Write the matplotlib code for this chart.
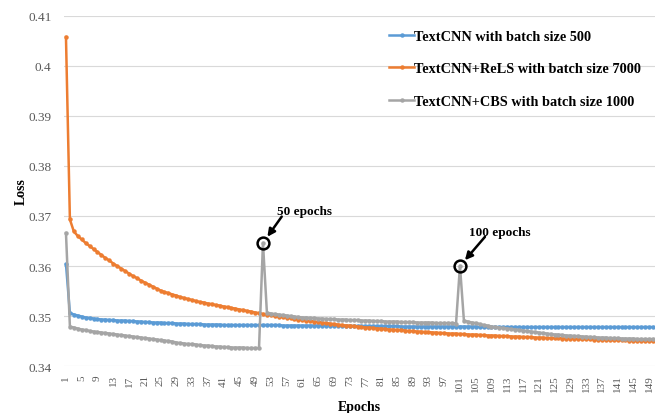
import matplotlib
matplotlib.use("Agg")
import matplotlib.pyplot as plt

plt.rcParams['font.family'] = ['Liberation Serif', 'DejaVu Serif']

epochs = list(range(1, 151))

# TextCNN, batch size 500
loss_textcnn = [
    .3604, .3506, .3503, .3501, .3499, .3497, .3496, .3495, .3494, .3493,
    .3493, .3492, .3492, .3491, .3491, .3491, .3490, .3490, .3489, .3489,
    .3488, .3488, .3487, .3487, .3487, .3486, .3486, .3486, .3485, .3485,
    .3485, .3484, .3484, .3484, .3484, .3483, .3483, .3483, .3483, .3483,
    .3482, .3482, .3482, .3482, .3482, .3482, .3482, .3482, .3482, .3482,
    .3482, .3482, .3482, .3482, .3482, .3481, .3481, .3481, .3481, .3481,
    .3481, .3481, .3481, .3481, .3481, .3481, .3481, .3481, .3481, .3481,
    .3480, .3480, .3480, .3480, .3480, .3480, .3480, .3480, .3480, .3480,
    .3480, .3480, .3480, .3480, .3480, .3479, .3479, .3479, .3479, .3479,
    .3479, .3479, .3479, .3479, .3479, .3479, .3479, .3479, .3479, .3479,
    .3479, .3479, .3479, .3479, .3479, .3478, .3478, .3478, .3478, .3478,
    .3478, .3478, .3478, .3478, .3478, .3478, .3478, .3478, .3478, .3478,
    .3478, .3478, .3478, .3478, .3478, .3478, .3478, .3478, .3478, .3478,
    .3478, .3478, .3478, .3478, .3478, .3478, .3478, .3478, .3478, .3478,
    .3478, .3478, .3478, .3478, .3478, .3478, .3478, .3478, .3478, .3478,
]

# TextCNN+ReLS, batch size 7000
loss_rels = [
    .4058, .3693, .3669, .3660, .3653, .3646, .3640, .3634, .3628, .3622,
    .3616, .3611, .3605, .3600, .3595, .3590, .3585, .3580, .3576, .3571,
    .3567, .3563, .3559, .3555, .3551, .3548, .3546, .3543, .3541, .3538,
    .3536, .3534, .3532, .3530, .3528, .3527, .3525, .3524, .3522, .3521,
    .3519, .3518, .3516, .3515, .3513, .3512, .3510, .3509, .3507, .3506,
    .3504, .3503, .3502, .3500, .3499, .3498, .3497, .3496, .3494, .3493,
    .3492, .3491, .3490, .3489, .3488, .3487, .3486, .3485, .3484, .3483,
    .3482, .3481, .3481, .3480, .3479, .3478, .3477, .3477, .3476, .3475,
    .3475, .3474, .3473, .3473, .3472, .3472, .3471, .3470, .3470, .3469,
    .3469, .3468, .3468, .3467, .3467, .3466, .3466, .3465, .3465, .3465,
    .3464, .3464, .3463, .3463, .3463, .3462, .3462, .3461, .3461, .3461,
    .3460, .3460, .3460, .3459, .3459, .3459, .3458, .3458, .3458, .3457,
    .3457, .3457, .3456, .3456, .3456, .3456, .3455, .3455, .3455, .3455,
    .3454, .3454, .3454, .3454, .3453, .3453, .3453, .3453, .3452, .3452,
    .3452, .3452, .3452, .3451, .3451, .3451, .3451, .3451, .3450, .3450,
]

# TextCNN+CBS, batch size 1000
loss_cbs = [
    .3666, .3479, .3477, .3475, .3473, .3472, .3470, .3469, .3468, .3467,
    .3466, .3465, .3464, .3463, .3462, .3461, .3460, .3459, .3458, .3457,
    .3456, .3455, .3454, .3453, .3452, .3451, .3450, .3449, .3447, .3446,
    .3445, .3444, .3444, .3443, .3442, .3441, .3441, .3440, .3439, .3439,
    .3438, .3438, .3437, .3437, .3437, .3437, .3436, .3436, .3436, .3436,
    .3646, .3507, .3505, .3504, .3503, .3502, .3501, .3500, .3499, .3498,
    .3497, .3497, .3496, .3496, .3495, .3495, .3494, .3494, .3494, .3493,
    .3493, .3493, .3492, .3492, .3492, .3491, .3491, .3491, .3490, .3490,
    .3490, .3489, .3489, .3489, .3489, .3488, .3488, .3488, .3488, .3487,
    .3487, .3487, .3487, .3487, .3486, .3486, .3486, .3486, .3486, .3485,
    .3600, .3491, .3489, .3487, .3486, .3484, .3482, .3481, .3479, .3478,
    .3477, .3476, .3475, .3474, .3473, .3472, .3471, .3470, .3469, .3468,
    .3467, .3466, .3465, .3464, .3463, .3463, .3462, .3461, .3461, .3460,
    .3460, .3459, .3459, .3458, .3458, .3457, .3457, .3457, .3456, .3456,
    .3456, .3455, .3455, .3455, .3455, .3454, .3454, .3454, .3454, .3454,
]

labels = ["TextCNN with batch size 500",
          "TextCNN+ReLS with batch size 7000",
          "TextCNN+CBS with batch size 1000"]
colors = ["#5B9BD5", "#ED7D31", "#A5A5A5"]

# restart points of CBS (epoch index where the loss jumps)
marks = [50, 100]
mark_texts = ["50 epochs", "100 epochs"]

fig = plt.figure(figsize=(6.55, 4.14), dpi=100)
ax = fig.add_axes([0.0977, 0.1135, 0.9023, 0.8455])

for ys, lab, col in zip([loss_textcnn, loss_rels, loss_cbs], labels, colors):
    ax.plot(epochs, ys, color=col, lw=1.8, marker='o', ms=2.2, label=lab)

# circles and arrows on the spikes
arrow_off = [(13.5, 19), (18, 21)]
text_off = [(10, 23), (6.5, 24.5)]
for i, txt, ao, to in zip(marks, mark_texts, arrow_off, text_off):
    px, py = epochs[i], loss_cbs[i]
    ax.plot(px, py, marker='o', ms=8.5, mfc='none', mec='black', mew=1.8, zorder=5)
    ax.annotate('', xy=(px, py), xytext=ao, textcoords='offset points',
                arrowprops=dict(arrowstyle='-|>', lw=1.8, color='black',
                                shrinkA=0, shrinkB=5.5, mutation_scale=11))
    ax.annotate(txt, xy=(px, py), xytext=to, textcoords='offset points',
                ha='left', va='center', fontsize=9.5, fontweight='bold')

ax.set_xlim(0.5, 150.5)
ax.set_ylim(0.34, 0.41)
ax.set_yticks([0.34, 0.35, 0.36, 0.37, 0.38, 0.39, 0.40, 0.41])
ax.set_yticklabels(["0.34", "0.35", "0.36", "0.37", "0.38", "0.39", "0.4", "0.41"])
ax.set_xticks(epochs[::4])
ax.set_xticklabels([str(e) for e in epochs[::4]], rotation=90)
ax.tick_params(axis='y', length=0, pad=9, labelsize=9.5, labelcolor='#595959')
ax.tick_params(axis='x', length=0, pad=6, labelsize=8, labelcolor='#595959')
ax.grid(axis='y', color='#D9D9D9', lw=0.8)
ax.set_axisbelow(True)
for s in ax.spines.values():
    s.set_visible(False)

ax.set_ylabel("Loss", fontsize=10, fontweight='bold')
ax.yaxis.set_label_coords(-0.061, 0.5)
ax.set_xlabel("Epochs", fontsize=10, fontweight='bold', labelpad=6)

leg = ax.legend(loc='upper left', bbox_to_anchor=(0.575, 0.956), bbox_transform=fig.transFigure,
                frameon=False, numpoints=1, handlelength=1.7, handletextpad=0.0,
                labelspacing=1.35, prop={'weight': 'bold', 'size': 10.3})

fig.savefig("out.png", dpi=100)
